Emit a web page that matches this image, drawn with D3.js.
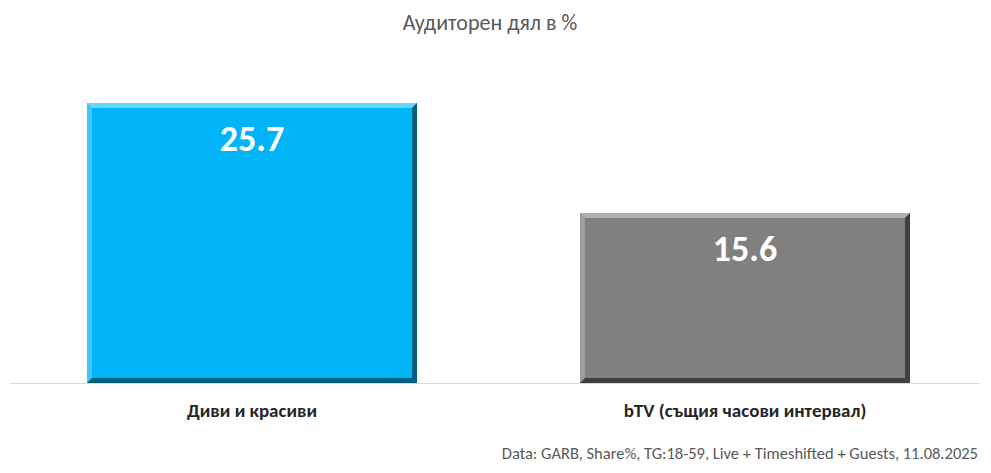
<!DOCTYPE html>
<html><head><meta charset="utf-8">
<script src="https://cdn.jsdelivr.net/npm/d3@7"></script>
<style>body{margin:0;background:#fff}</style></head>
<body><svg id="c" width="991" height="473"></svg>
<script>
const categories = ["Диви и красиви", "bTV (същия часови интервал)"];
const values = [25.7, 15.6];
const colors = ["#00B4F7", "#808080"];
const darks = ["#005F80", "#404040"];
const lights = ["#66D6FF", "#B0B0B0"];
const svg = d3.select("#c");
const font = "Calibri, Carlito, 'Open Sans', sans-serif";
const base = 383;
const bx = d3.scaleBand().domain(categories).range([5.5, 991.5]);
const y = d3.scaleLinear().domain([0, 25.7]).range([base, 103]);
const bw = 330;
svg.append("text").attr("x", 490).attr("y", 30).attr("text-anchor", "middle")
  .attr("font-family", font).attr("font-size", 22).attr("fill", "#595959").text("Аудиторен дял в %");
svg.append("line").attr("x1", 10).attr("x2", 980).attr("y1", base + 0.5).attr("y2", base + 0.5)
  .attr("stroke", "#d9d9d9");
categories.forEach((c, i) => {
  const cx = bx(c) + bx.bandwidth() / 2;
  const x0 = cx - bw / 2, x1 = cx + bw / 2, y0 = y(values[i]), y1 = base, b = 5;
  const g = svg.append("g");
  g.append("rect").attr("x", x0).attr("y", y0).attr("width", bw).attr("height", y1 - y0).attr("fill", colors[i]);
  g.append("polygon").attr("points", [[x0,y0],[x1,y0],[x1-b,y0+b],[x0+b,y0+b]].join(" ")).attr("fill", lights[i]);
  g.append("polygon").attr("points", [[x0,y0],[x0+b,y0+b],[x0+b,y1-b],[x0,y1]].join(" ")).attr("fill", lights[i]).attr("opacity", 0.6);
  g.append("polygon").attr("points", [[x1,y0],[x1,y1],[x1-b,y1-b],[x1-b,y0+b]].join(" ")).attr("fill", darks[i]);
  g.append("polygon").attr("points", [[x0,y1],[x1,y1],[x1-b,y1-b],[x0+b,y1-b]].join(" ")).attr("fill", darks[i]);
  svg.append("text").attr("x", cx).attr("y", y0 + 48).attr("text-anchor", "middle")
    .attr("font-family", font).attr("font-weight", "bold").attr("font-size", 36).attr("fill", "#fff").text(values[i].toFixed(1));
  svg.append("text").attr("x", cx).attr("y", 417).attr("text-anchor", "middle")
    .attr("font-family", font).attr("font-weight", "bold").attr("font-size", 19).attr("fill", "#262626").text(c);
});
svg.append("text").attr("x", 978).attr("y", 459).attr("text-anchor", "end")
  .attr("font-family", font).attr("font-size", 16.5).attr("fill", "#595959")
  .text("Data: GARB, Share%, TG:18-59, Live + Timeshifted + Guests, 11.08.2025");
</script></body></html>
